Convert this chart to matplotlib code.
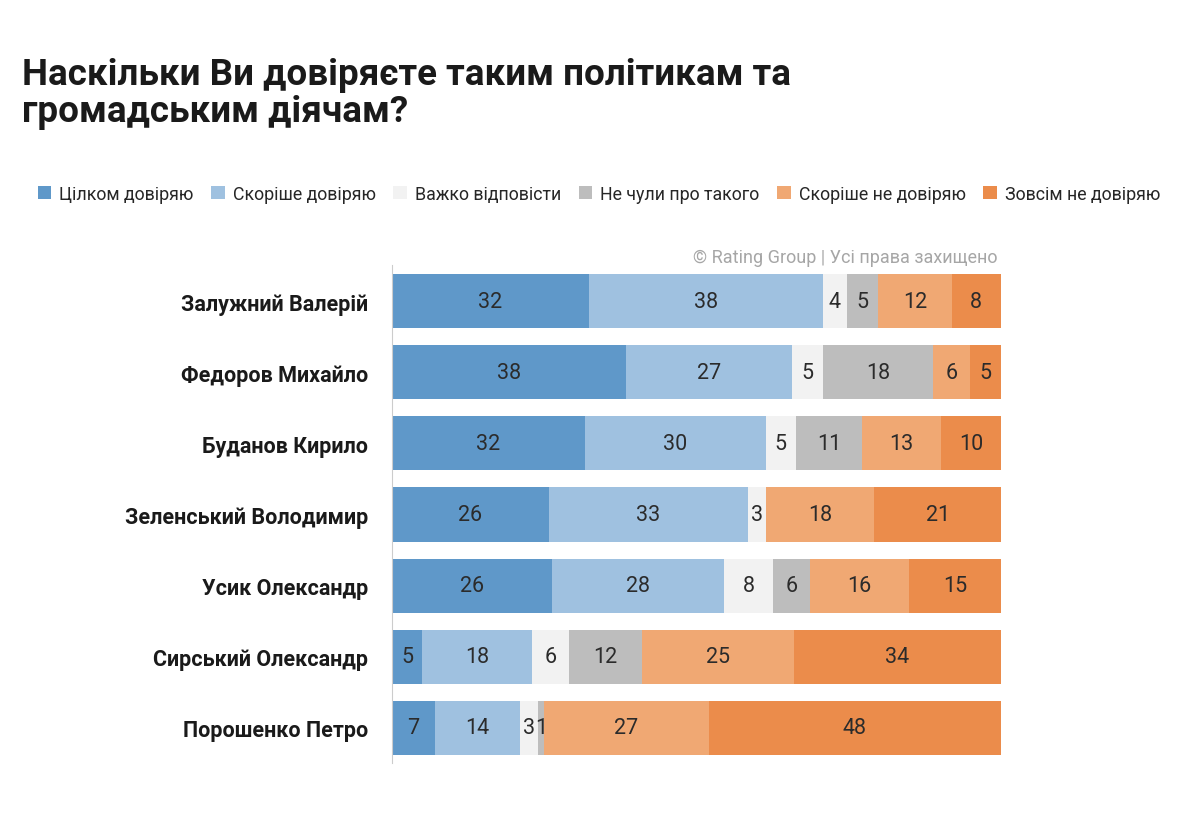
import matplotlib.pyplot as plt
from matplotlib.patches import Patch

plt.rcParams['font.family'] = ['Roboto', 'DejaVu Sans']

names = ['Залужний Валерій', 'Федоров Михайло', 'Буданов Кирило',
         'Зеленський Володимир', 'Усик Олександр', 'Сирський Олександр',
         'Порошенко Петро']
series = ['Цілком довіряю', 'Скоріше довіряю', 'Важко відповісти',
          'Не чули про такого', 'Скоріше не довіряю', 'Зовсім не довіряю']
fully_trust = [32, 38, 32, 26, 26, 5, 7]
rather_trust = [38, 27, 30, 33, 28, 18, 14]
hard_to_say = [4, 5, 5, 3, 8, 6, 3]
not_heard = [5, 18, 11, 0, 6, 12, 1]
rather_distrust = [12, 6, 13, 18, 16, 25, 27]
fully_distrust = [8, 5, 10, 21, 15, 34, 48]

colors = ['#5f98c9', '#9fc1e0', '#f2f2f2', '#bdbdbd', '#f0a873', '#eb8c4b']
data = [fully_trust, rather_trust, hard_to_say, not_heard, rather_distrust, fully_distrust]

fig = plt.figure(figsize=(11.79, 8.28), dpi=100)
ax = fig.add_axes([0.3325, 0.0767, 0.5165, 0.6015])

totals = [sum(col) for col in zip(*data)]
left = [0.0] * len(names)
ypos = list(range(len(names)))
for vals, col in zip(data, colors):
    widths = [v / t * 100 for v, t in zip(vals, totals)]
    ax.barh(ypos, widths, left=left, height=0.76, color=col, edgecolor='none')
    for i, (v, w) in enumerate(zip(vals, widths)):
        if v > 0:
            ax.text(left[i] + w / 2, i, str(v), ha='center', va='center',
                    fontsize=15.5, color='#2b2b2b')
    left = [l + w for l, w in zip(left, widths)]

ax.set_xlim(0, 100)
ax.set_ylim(len(names) - 0.5, -0.5)
ax.set_yticks(ypos)
ax.set_yticklabels(names, fontsize=15.5, fontweight='bold', color='#1a1a1a')
ax.tick_params(axis='y', length=0, pad=17)
ax.set_xticks([])
for s in ['top', 'right', 'bottom']:
    ax.spines[s].set_visible(False)
ax.spines['left'].set_color('#cccccc')

fig.text(0.019, 1 - 85 / 828, 'Наскільки Ви довіряєте таким політикам та',
         fontsize=26.5, fontweight='bold', color='#1a1a1a', va='baseline', ha='left')
fig.text(0.019, 1 - 122 / 828, 'громадським діячам?',
         fontsize=26.5, fontweight='bold', color='#1a1a1a', va='baseline', ha='left')

handles = [Patch(facecolor=c, edgecolor='none') for c in colors]
fig.legend(handles, series, loc='center', bbox_to_anchor=(0.508, 0.7645), ncol=6,
           frameon=False, fontsize=12.8, handlelength=0.75, handleheight=0.75,
           handletextpad=0.45, columnspacing=1.0, labelcolor='#262626')

fig.text(0.846, 0.689, '© Rating Group | Усі права захищено', ha='right', va='center',
         fontsize=13, color='#a6a6a6')

fig.savefig('out.png', dpi=100)
